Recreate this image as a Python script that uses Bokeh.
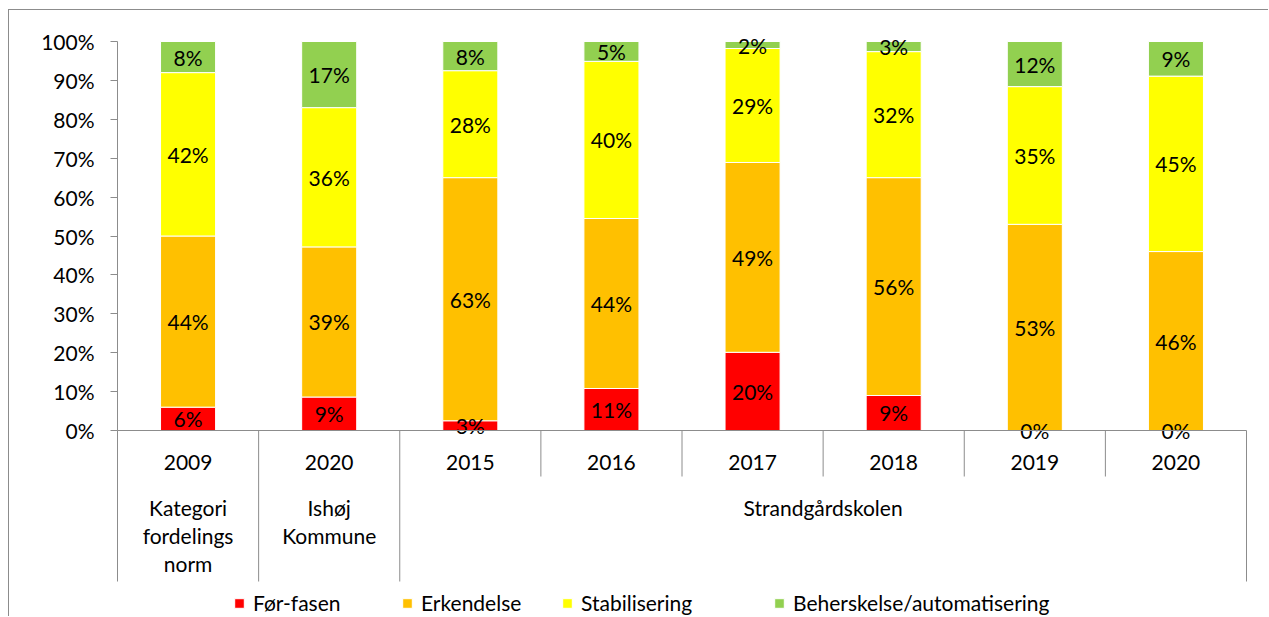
from bokeh.plotting import figure
from bokeh.models import Range1d, FixedTicker, Legend, LegendItem, ColumnDataSource
from bokeh.core.properties import value
from bokeh.embed import file_html
from bokeh.resources import INLINE

# ---------------- data ----------------
years = ["2009", "2020", "2015", "2016", "2017", "2018", "2019", "2020"]
groups = ["Kategori\nfordelings\nnorm", "Ishøj\nKommune", "Strandgårdskolen"]
group_start = [0, 1, 2]
group_end = [1, 2, 8]
series = ["Før-fasen", "Erkendelse", "Stabilisering", "Beherskelse/automatisering"]
colors = ["#FF0000", "#FFC000", "#FFFF00", "#92D050"]
for_fasen = [6.0, 8.6, 2.5, 10.8, 20.1, 9.0, 0.0, 0.0]
erkendelse = [44.0, 38.6, 62.5, 43.7, 48.8, 56.0, 53.0, 46.0]
stabilisering = [42.0, 35.8, 27.5, 40.4, 29.3, 32.4, 35.4, 45.1]
beherskelse = [8.0, 17.0, 7.5, 5.1, 1.8, 2.6, 11.6, 8.9]
y_ticks = [0, 10, 20, 30, 40, 50, 60, 70, 80, 90, 100]

# ---------------- layout constants (pixels) ----------------
FONT = value("Lato")
FS = "21px"
GRAY = "#8C8C8C"
PXX = 141.125          # px per category
PXY = 3.89             # px per percent
W, H = 1260, 607
CANVAS_LEFT, CANVAS_TOP = 9, 10
FRAME_L, FRAME_R, FRAME_T = 115, 1248, 10
TOP100_Y = 41
ZERO_Y = 430
CAT_L = 117

x_start = (FRAME_L - CAT_L) / PXX
x_end = 8 + (FRAME_R - (CAT_L + 8 * PXX)) / PXX
y_bottom = -((CANVAS_TOP + H) - ZERO_Y) / PXY
y_top = 100 + (TOP100_Y - FRAME_T) / PXY

p = figure(width=W, height=H, output_backend="svg", toolbar_location=None,
           x_range=Range1d(x_start, x_end), y_range=Range1d(y_bottom, y_top),
           min_border_left=FRAME_L - CANVAS_LEFT, min_border_top=FRAME_T - CANVAS_TOP,
           min_border_right=(CANVAS_LEFT + W) - FRAME_R, min_border_bottom=0,
           x_axis_location=None, outline_line_color=None,
           background_fill_color="white", border_fill_color="white")
p.styles = {"margin-top": "9px", "margin-left": "8px",
            "border-top": "1px solid #8C8C8C", "border-left": "1px solid #8C8C8C"}
p.xgrid.visible = False
p.ygrid.visible = False

ax = p.yaxis[0]
ax.ticker = FixedTicker(ticks=y_ticks, minor_ticks=[])
ax.major_label_overrides = {t: f"{t}%" for t in y_ticks}
ax.axis_line_color = None
ax.major_tick_line_color = GRAY
ax.major_tick_in = 2
ax.major_tick_out = 5
ax.major_label_standoff = 16
ax.major_label_text_font = "Lato"
ax.major_label_text_font_size = FS
ax.major_label_text_color = "black"

# ---------------- bars ----------------
xs = [i + 0.5 for i in range(len(years))]
vals = [for_fasen, erkendelse, stabilisering, beherskelse]
src = ColumnDataSource(dict(x=xs, s0=for_fasen, s1=erkendelse, s2=stabilisering, s3=beherskelse))
rends = p.vbar_stack(["s0", "s1", "s2", "s3"], x="x", width=0.39, source=src,
                     color=colors, line_color="white", line_width=1)

# bar labels
lx, ly, lt = [], [], []
for i, x in enumerate(xs):
    base = 0.0
    for v in vals:
        lx.append(x)
        ly.append(base + v[i] / 2)
        lt.append(f"{int(v[i] + 0.5)}%")
        base += v[i]
p.text(x=lx, y=ly, text=lt, text_font=FONT, text_font_size=FS,
       text_align="center", text_baseline="middle", text_color="black")

# ---------------- category axis (drawn) ----------------
p.segment(x0=[0], y0=[0], x1=[8], y1=[0], line_color=GRAY, line_width=1)
p.segment(x0=[0], y0=[0], x1=[0], y1=[100], line_color=GRAY, line_width=1)
long_y = -(581 - ZERO_Y) / PXY
short_y = -(476 - ZERO_Y) / PXY
seps = list(range(0, 9))
sep_bottom = [long_y if (s in group_start or s in group_end) else short_y for s in seps]
p.segment(x0=seps, y0=[0] * len(seps), x1=seps, y1=sep_bottom, line_color=GRAY, line_width=1)

p.text(x=xs, y=[-(462 - ZERO_Y) / PXY] * len(xs), text=years, text_font=FONT,
       text_font_size=FS, text_align="center", text_baseline="middle", text_color="black")
gx = [(a + b) / 2 for a, b in zip(group_start, group_end)]
p.text(x=gx, y=[-(494 - ZERO_Y) / PXY] * len(gx), text=groups, text_font=FONT,
       text_font_size=FS, text_align="center", text_baseline="top",
       text_line_height=1.13, text_color="black")

# ---------------- legends ----------------
leg_px = [233, 401, 561, 773]
for r, name, lpx in zip(rends, series, leg_px):
    lg = Legend(items=[LegendItem(label=name, renderers=[r])],
                location=(lpx - FRAME_L, (CANVAS_TOP + H) - 615),
                orientation="horizontal", padding=0, margin=0, spacing=0,
                glyph_width=12, glyph_height=12, label_standoff=8, label_height=20,
                border_line_color=None, background_fill_alpha=0,
                label_text_font="Lato", label_text_font_size=FS, label_text_color="black")
    p.add_layout(lg, "center")

open("out.html", "w").write(file_html(p, INLINE))
